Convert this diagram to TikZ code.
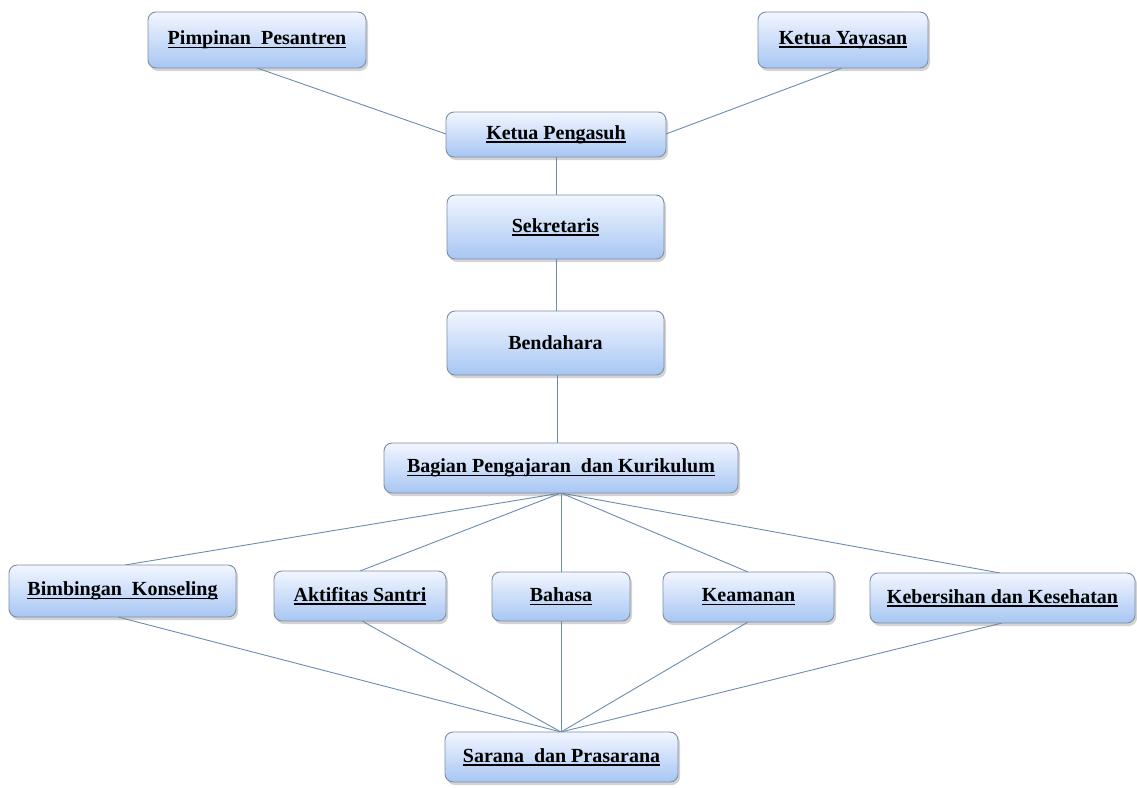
\documentclass[tikz,border=0pt]{standalone}
\usepackage{fontspec}
\setmainfont{Liberation Serif}
\usetikzlibrary{shadows}
\newsavebox{\myulbox}
\newcommand{\myul}[1]{\sbox{\myulbox}{#1}\rlap{\raisebox{-3.5pt}{\rule{\wd\myulbox}{1.5pt}}}\usebox{\myulbox}}
\definecolor{boxtop}{HTML}{F2F6FF}
\definecolor{boxbot}{HTML}{A7C6F3}
\definecolor{boxline}{HTML}{7D8DA6}
\definecolor{conn}{HTML}{6A8CB4}
\tikzset{
  orgbox/.style={draw=boxline, line width=0.9pt, rounded corners=8pt,
    top color=boxtop, bottom color=boxbot,
    drop shadow={opacity=0.35, shadow xshift=2pt, shadow yshift=-3pt}},
  boxtext/.style={inner sep=0pt, font=\fontsize{20}{24}\selectfont\bfseries},
  link/.style={draw=conn, line width=0.9pt}
}
\newcommand{\bx}[6]{% name, x1, y1, x2, y2, text
  \path[orgbox] (#2,#3) rectangle (#4,#5);
  \node[boxtext] (#1) at ({(#2+#4)/2},{(#3+#5)/2}) {#6};
}
\begin{document}
\begin{tikzpicture}[x=1pt,y=-1pt]
\useasboundingbox (0,0) rectangle (1137,787);
% connector end points on the box edges
\coordinate (pp-c) at (257,68);
\coordinate (ky-c) at (842,68);
\coordinate (kp-w) at (446,134);
\coordinate (kp-e) at (666,134);
\coordinate (kp-s0) at (556,157);
\coordinate (sk-n0) at (556,195);
\coordinate (sk-s0) at (556,259);
\coordinate (bd-n0) at (556,311);
\coordinate (bd-s0) at (557,375);
\coordinate (bg-n0) at (557,443);
\coordinate (bg-s0) at (561,493);
\coordinate (bk-n0) at (125,565);
\coordinate (as-n0) at (360,571);
\coordinate (bh-n0) at (561,572);
\coordinate (km-n0) at (748,572);
\coordinate (kb-n0) at (1000,573);
\coordinate (bk-s0) at (118,617);
\coordinate (as-s0) at (362,621);
\coordinate (bh-s0) at (561,621);
\coordinate (km-s0) at (748,622);
\coordinate (kb-s0) at (1002,623);
\coordinate (sp-n0) at (561,732);
\draw[link] (pp-c) -- (kp-w);
\draw[link] (ky-c) -- (kp-e);
\draw[link] (kp-s0) -- (sk-n0);
\draw[link] (sk-s0) -- (bd-n0);
\draw[link] (bd-s0) -- (bg-n0);
\foreach \t in {bk,as,bh,km,kb}{
  \draw[link] (bg-s0) -- (\t-n0);
  \draw[link] (\t-s0) -- (sp-n0);
}
% boxes
\bx{pp}{148}{12}{366}{68}{\myul{Pimpinan\ \ Pesantren}}
\bx{ky}{758}{12}{928}{68}{\myul{Ketua Yayasan}}
\bx{kp}{446}{112}{666}{157}{\myul{Ketua Pengasuh}}
\bx{sk}{447}{195}{664}{259}{\myul{Sekretaris}}
\bx{bd}{447}{311}{664}{375}{Bendahara}
\bx{bg}{384}{443}{738}{493}{\myul{Bagian Pengajaran\ \ dan Kurikulum}}
\bx{bk}{9}{565}{236}{617}{\myul{Bimbingan\ \ Konseling}}
\bx{as}{274}{571}{446}{621}{\myul{Aktifitas Santri}}
\bx{bh}{492}{572}{630}{621}{\myul{Bahasa}}
\bx{km}{663}{572}{834}{622}{\myul{Keamanan}}
\bx{kb}{870}{573}{1135}{623}{\myul{Kebersihan dan Kesehatan}}
\bx{sp}{445}{732}{678}{782}{\myul{Sarana\ \ dan Prasarana}}
\end{tikzpicture}
\end{document}
